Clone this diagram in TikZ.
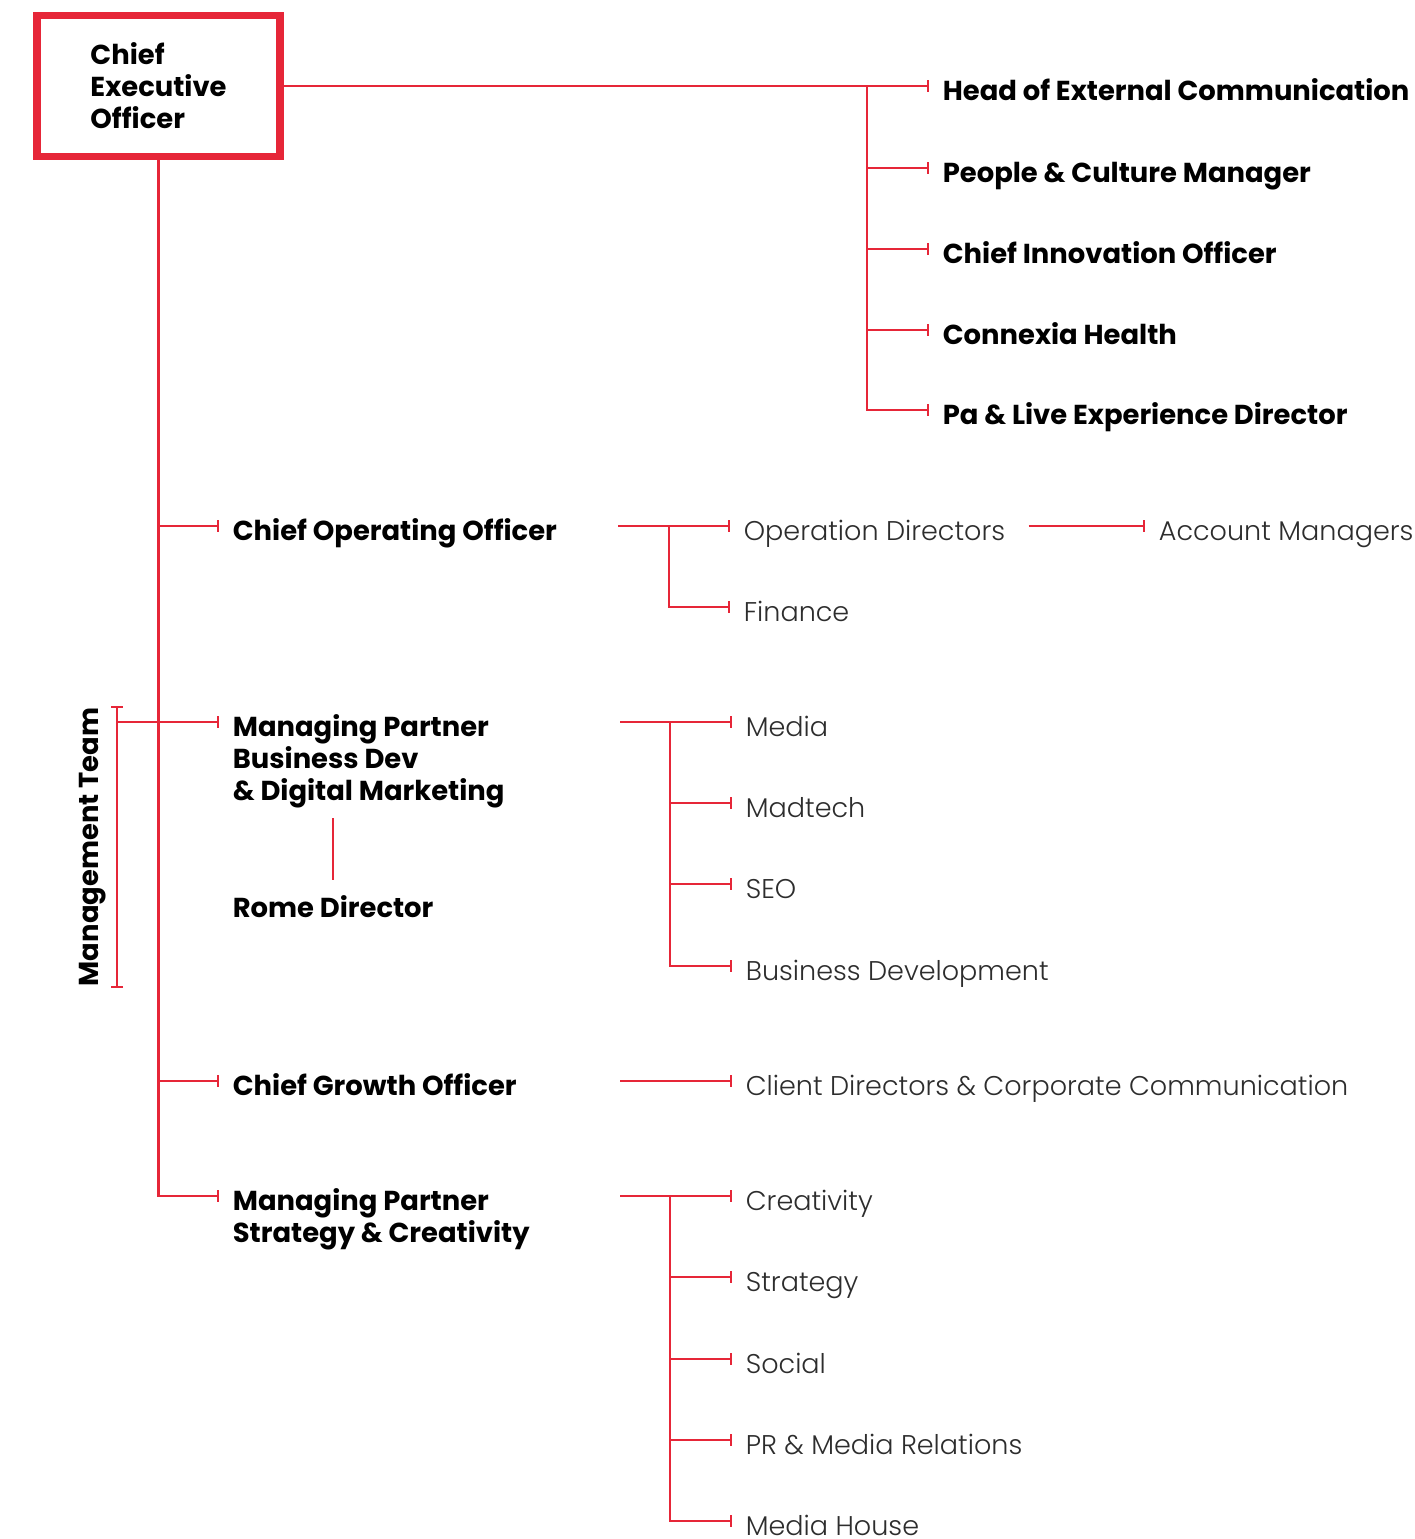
\documentclass[tikz,border=0pt]{standalone}
\usepackage{fontspec}
\setmainfont{Poppins}
\newfontfamily\lightfont{Poppins Light}
\usetikzlibrary{arrows.meta,positioning}
\definecolor{cxred}{RGB}{230,38,56}
\definecolor{cxgrey}{RGB}{45,45,45}
\newcommand\leadfont{\fontsize{15.6}{18.2}\selectfont\bfseries}
\newcommand\unitfont{\fontsize{15.4}{18.2}\selectfont\lightfont}
\tikzset{link/.style={draw=cxred, line width=1.4pt}}
\tikzset{tip/.style={link, -{Bar[width=0.24cm]}}}

\begin{document}
\begin{tikzpicture}[x=0.02cm, y=-0.02cm,
      % styles for the chart
      ceobox/.style ={draw=cxred, line width=4.5pt, minimum width=4.86cm,
                      minimum height=2.82cm, align=left, font=\leadfont},
      lead/.style   ={anchor=west, inner xsep=0.27cm, inner ysep=0pt,
                      text height=0.56cm, text depth=0pt, align=left, font=\leadfont},
      unit/.style   ={lead, font=\unitfont, text=cxgrey}
    ]
    \useasboundingbox (0,0) rectangle (1415,1539);

    % chief executive and staff
    \node[ceobox] (ceo) at (158.5,86) {Chief\\Executive\\Officer};
    \foreach \t/\y [count=\i] in {Head of External Communication/86,
        People \& Culture Manager/168, Chief Innovation Officer/249,
        Connexia Health/330, Pa \& Live Experience Director/410}{
      \node[lead] (h\i) at (929,\y) {\t};
    }
    \coordinate (ext) at (867,86);
    \draw[tip] (ceo.east) -- (h1.west);
    \draw[tip] (ext) |- (h5.west);
    \foreach \i in {2,...,4}
      \draw[tip] (ext |- h\i.west) -- (h\i.west);

    % management team (multi-line nodes sit on their last line)
    \node[lead] (coo)  at (219,526)  {Chief Operating Officer};
    \node[lead] (mpbd) at (219,786)  {Managing Partner\\Business Dev\\\& Digital Marketing};
    \node[lead] (rome) at (219,903)  {Rome Director};
    \node[lead] (cgo)  at (219,1081) {Chief Growth Officer};
    \node[lead] (mpsc) at (219,1228) {Managing Partner\\Strategy \& Creativity};
    \coordinate (mpbd-in) at ([yshift=1.28cm]mpbd.west);
    \coordinate (mpsc-in) at ([yshift=0.64cm]mpsc.west);
    \node[font=\leadfont, rotate=90] (team) at (93,847) {Management Team};
    \coordinate (team-a) at (117,706);
    \coordinate (team-b) at (117,988);

    \draw[tip] (ceo.south) |- (mpsc-in);
    \foreach \n in {coo,cgo}
      \draw[tip] (ceo.south |- \n.west) -- (\n.west);
    \draw[link, {Bar[width=0.24cm]}-{Bar[width=0.24cm]}] (team-a) -- (team-b);
    \draw[tip] (team-a |- mpbd-in) -- (mpbd-in);
    \draw[link, shorten <=0.18cm] (rome.north) -- ++(0,-71);

    % operations
    \node[unit] (od)  at (730,526)  {Operation Directors};
    \node[unit] (fin) at (730,607)  {Finance};
    \node[unit] (am)  at (1145,526) {Account Managers};
    \coordinate (coo-out)  at (618,526);
    \coordinate (coo-fork) at (669,526);
    \draw[tip] (coo-out) -- (od.west);
    \draw[tip] (coo-fork) |- (fin.west);
    \draw[tip, shorten <=0.19cm] (od.east) -- (am.west);

    % business dev and digital marketing
    \foreach \t/\y [count=\i] in {Media/722, Madtech/803, SEO/884,
        Business Development/966}{
      \node[unit] (b\i) at (732,\y) {\t};
    }
    \coordinate (bd-out)  at (620,722);
    \coordinate (bd-fork) at (670,722);
    \draw[tip] (bd-out) -- (b1.west);
    \draw[tip] (bd-fork) |- (b4.west);
    \foreach \i in {2,3}
      \draw[tip] (bd-fork |- b\i.west) -- (b\i.west);

    % growth
    \node[unit] (cd) at (732,1081) {Client Directors \& Corporate Communication};
    \coordinate (cg-out) at (620,1081);
    \draw[tip] (cg-out) -- (cd.west);

    % strategy and creativity
    \foreach \t/\y [count=\i] in {Creativity/1196, Strategy/1277, Social/1359,
        PR \& Media Relations/1440, Media House/1521}{
      \node[unit] (s\i) at (732,\y) {\t};
    }
    \coordinate (sc-out)  at (620,1196);
    \coordinate (sc-fork) at (670,1196);
    \draw[tip] (sc-out) -- (s1.west);
    \draw[tip] (sc-fork) |- (s5.west);
    \foreach \i in {2,...,4}
      \draw[tip] (sc-fork |- s\i.west) -- (s\i.west);
  \end{tikzpicture}
\end{document}
